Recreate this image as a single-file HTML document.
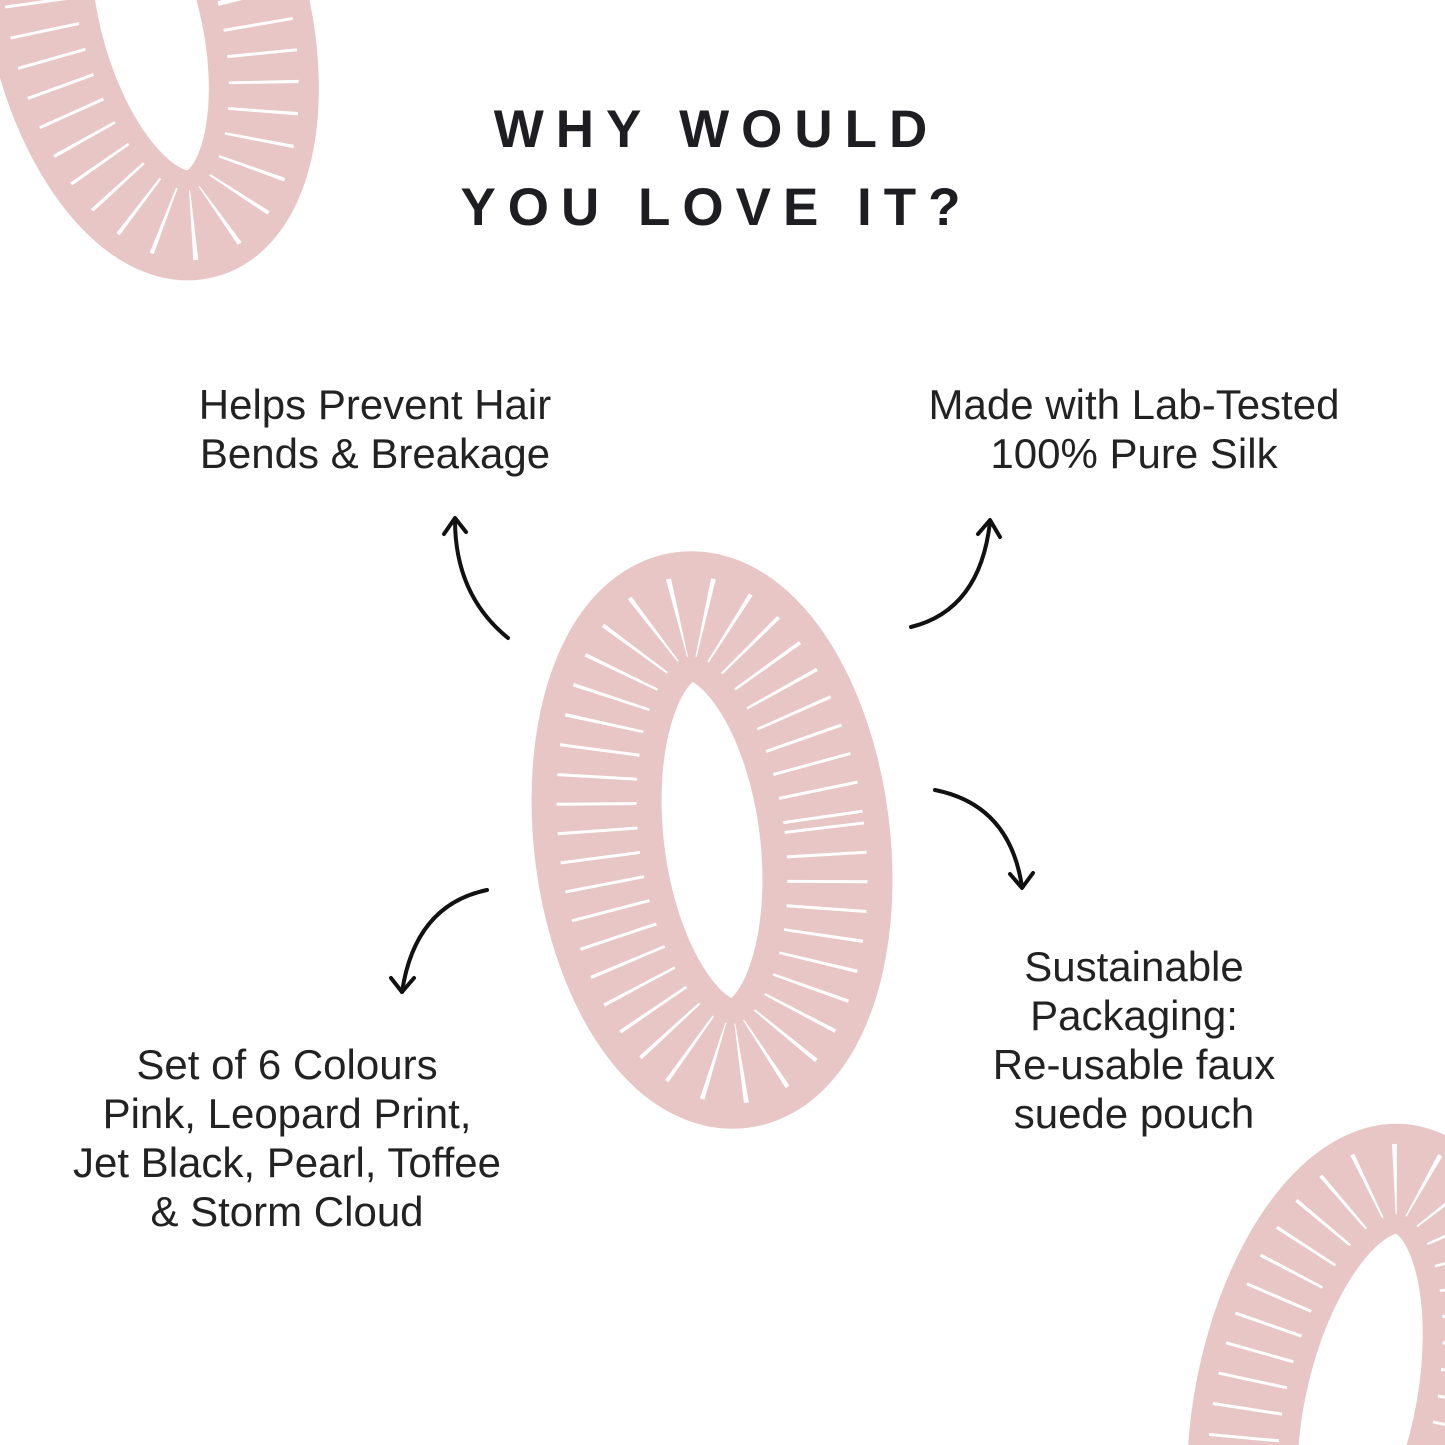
<!DOCTYPE html>
<html><head><meta charset="utf-8"><style>
html,body{margin:0;padding:0;background:#fff;overflow:hidden;width:1445px;height:1445px}
body{position:relative;font-family:"Liberation Sans",sans-serif;color:#222}
svg{display:block}
.t{position:absolute;text-align:center;font-size:42px;line-height:49px;white-space:nowrap}
.h{position:absolute;left:-6px;width:1445px;text-align:center;font-weight:bold;font-size:53px;letter-spacing:12px;color:#1e1e22;line-height:60px}
</style></head><body>
<svg width="1445" height="1445" style="position:absolute;left:0;top:0">
<g fill="none">
 <g transform="translate(712 840) rotate(-7)">
  <ellipse rx="113" ry="225" stroke="#e8c6c6" stroke-width="130"/>
  <ellipse rx="113" ry="225" stroke="#fff" stroke-width="80" stroke-dasharray="3 24"/>
 </g>
 <g transform="translate(150 20) rotate(-14)">
  <ellipse rx="105" ry="210" stroke="#e8c6c6" stroke-width="110"/>
  <ellipse rx="105" ry="210" stroke="#fff" stroke-width="70" stroke-dasharray="3 26"/>
 </g>
 <g transform="translate(1360 1405) rotate(12)">
  <ellipse rx="110" ry="230" stroke="#e8c6c6" stroke-width="110"/>
  <ellipse rx="110" ry="230" stroke="#fff" stroke-width="70" stroke-dasharray="3 26"/>
 </g>
 <g stroke="#111" stroke-width="4" stroke-linecap="round" stroke-linejoin="round">
  <path d="M508 638 Q455 595 455 520"/><path d="M444 534 L455 518 L466 532"/>
  <path d="M911 627 Q980 610 990 522"/><path d="M978 534 L990 520 L1000 537"/>
  <path d="M935 790 Q1010 805 1022 887"/><path d="M1010 874 L1022 888 L1033 873"/>
  <path d="M487 890 Q415 905 402 992"/><path d="M391 978 L402 992 L414 978"/>
 </g>
</g>
</svg>
<div class="h" style="top:100px">WHY WOULD</div>
<div class="h" style="top:178px">YOU LOVE IT?</div>
<div class="t" style="left:125px;width:500px;top:380px">Helps Prevent Hair<br>Bends &amp; Breakage</div>
<div class="t" style="left:884px;width:500px;top:380px">Made with Lab-Tested<br>100% Pure Silk</div>
<div class="t" style="left:884px;width:500px;top:942px">Sustainable<br>Packaging:<br>Re-usable faux<br>suede pouch</div>
<div class="t" style="left:27px;width:520px;top:1040px">Set of 6 Colours<br>Pink, Leopard Print,<br>Jet Black, Pearl, Toffee<br>&amp; Storm Cloud</div>
</body></html>
